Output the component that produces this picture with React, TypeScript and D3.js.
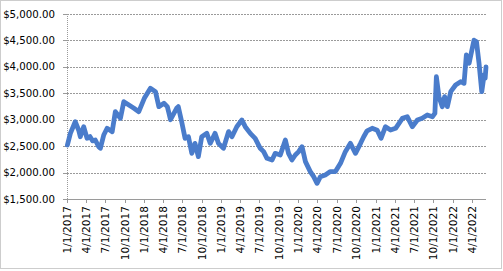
import React from "react";
import * as d3 from "d3";

const dates: string[] = [
  "2017-01-03","2017-01-17","2017-02-09","2017-02-25","2017-03-05","2017-03-21","2017-04-06","2017-04-20","2017-05-02","2017-05-15","2017-05-31","2017-06-08",
  "2017-06-24","2017-07-10","2017-08-03","2017-08-18","2017-09-11","2017-09-27","2017-10-21","2017-11-14","2017-12-07","2018-01-02",
  "2018-01-31","2018-02-24","2018-03-12","2018-04-05","2018-04-21","2018-04-27","2018-05-06","2018-06-04","2018-06-12","2018-06-28",
  "2018-07-14","2018-07-30","2018-08-15","2018-08-30","2018-09-15","2018-10-01","2018-10-25","2018-11-10","2018-12-03","2018-12-19",
  "2019-01-12","2019-02-05","2019-02-21","2019-03-16","2019-04-09","2019-04-25","2019-05-19","2019-06-11","2019-07-05","2019-07-21",
  "2019-08-06","2019-08-30","2019-09-14","2019-10-08","2019-11-01","2019-11-16","2019-12-02","2019-12-18","2020-01-03","2020-01-19",
  "2020-02-04","2020-02-27","2020-03-14","2020-03-30","2020-04-15","2020-05-08","2020-06-01","2020-06-25","2020-07-19","2020-08-11",
  "2020-09-04","2020-09-28","2020-10-22","2020-11-06","2020-11-22","2020-12-16","2021-01-09","2021-01-27","2021-02-17","2021-03-13",
  "2021-04-06","2021-05-08","2021-05-31","2021-06-24","2021-07-18","2021-08-10","2021-09-03","2021-09-27","2021-10-09","2021-10-16",
  "2021-10-28","2021-11-13","2021-11-24","2021-12-07","2021-12-23","2022-01-15","2022-02-08","2022-02-24","2022-03-07","2022-03-20",
  "2022-04-12","2022-04-24","2022-05-06","2022-05-19","2022-05-30","2022-06-04","2022-06-08"
];

const values: number[] = [
  2521,2742,2962,2805,2679,2868,2648,2680,2600,2616,2489,2459,
  2711,2838,2774,3152,3027,3341,3278,3216,3152,3405,
  3594,3531,3247,3310,3247,3152,3000,3216,3247,2962,
  2648,2679,2364,2553,2301,2679,2742,2553,2742,2553,
  2459,2774,2679,2868,2994,2868,2742,2648,2459,2396,
  2270,2238,2364,2333,2616,2364,2238,2333,2396,2490,
  2207,2018,1922,1797,1922,1954,2018,2018,2175,2396,
  2553,2364,2553,2679,2790,2838,2800,2648,2868,2805,
  2838,3026,3057,2868,2994,3026,3089,3057,3120,3813,
  3436,3247,3436,3247,3530,3657,3720,3688,4225,4067,
  4505,4473,4067,3530,3846,3783,4000
];

const yTicks: number[] = [1500, 2000, 2500, 3000, 3500, 4000, 4500, 5000];
const xStart = "2017-01-01";
const xEnd = "2022-06-08";

const W = 503;
const H = 271;
const left = 67;
const right = 486;
const top = 14;
const bottom = 199;

export default function App() {
  const parse = d3.timeParse("%Y-%m-%d");
  const data = dates.map((d, i) => ({ date: parse(d) as Date, value: values[i] }));
  const x = d3.scaleTime().domain([parse(xStart) as Date, parse(xEnd) as Date]).range([left, right]);
  const y = d3.scaleLinear().domain([1500, 5000]).range([bottom, top]);
  const xTicks = d3.timeMonth.every(3)!.range(parse(xStart) as Date, d3.timeDay.offset(parse(xEnd) as Date, 1));
  const fmtX = d3.timeFormat("%-m/%-d/%Y");
  const fmtY = (v: number) => "$" + d3.format(",.2f")(v);
  const line = d3.line<{ date: Date; value: number }>().x(d => x(d.date)).y(d => y(d.value));
  const path = line(data) || "";

  return (
    <svg width={W} height={H} style={{ position: "absolute", left: 0, top: 0, background: "#fff" }}
      fontFamily="'DejaVu Sans', Verdana, sans-serif">
      <rect x={0.5} y={0.5} width={W - 2} height={268} fill="#fff" stroke="#9a9a9a" strokeDasharray="1 1" />
      {yTicks.filter(t => t > 1500).map(t => (
        <line key={"g" + t} x1={left} x2={right} y1={Math.round(y(t)) + 0.5} y2={Math.round(y(t)) + 0.5}
          stroke="#9a9a9a" strokeDasharray="2 1" />
      ))}
      <line x1={left + 0.5} x2={left + 0.5} y1={top} y2={bottom} stroke="#9a9a9a" strokeDasharray="1 1" />
      <line x1={left} x2={right} y1={bottom + 0.5} y2={bottom + 0.5} stroke="#9a9a9a" />
      {yTicks.map(t => (
        <g key={"y" + t}>
          <line x1={left - 4} x2={left} y1={Math.round(y(t)) + 0.5} y2={Math.round(y(t)) + 0.5} stroke="#9a9a9a" />
          <text x={55} y={y(t)} dy="0.35em" textAnchor="end" fontSize={10.2} fill="#000">{fmtY(t)}</text>
        </g>
      ))}
      {xTicks.map(t => {
        const px = Math.round(x(t)) + 0.5;
        return (
          <g key={"x" + t.getTime()}>
            <line x1={px} x2={px} y1={bottom} y2={bottom + 4} stroke="#9a9a9a" />
            <text transform={`translate(${px},206) rotate(-90)`} dy="0.35em" textAnchor="end" fontSize={10.6} fill="#000">
              {fmtX(t)}
            </text>
          </g>
        );
      })}
      <path d={path} fill="none" stroke="#4a7ccb" strokeWidth={4.8} strokeLinejoin="round" strokeLinecap="round" />
    </svg>
  );
}
